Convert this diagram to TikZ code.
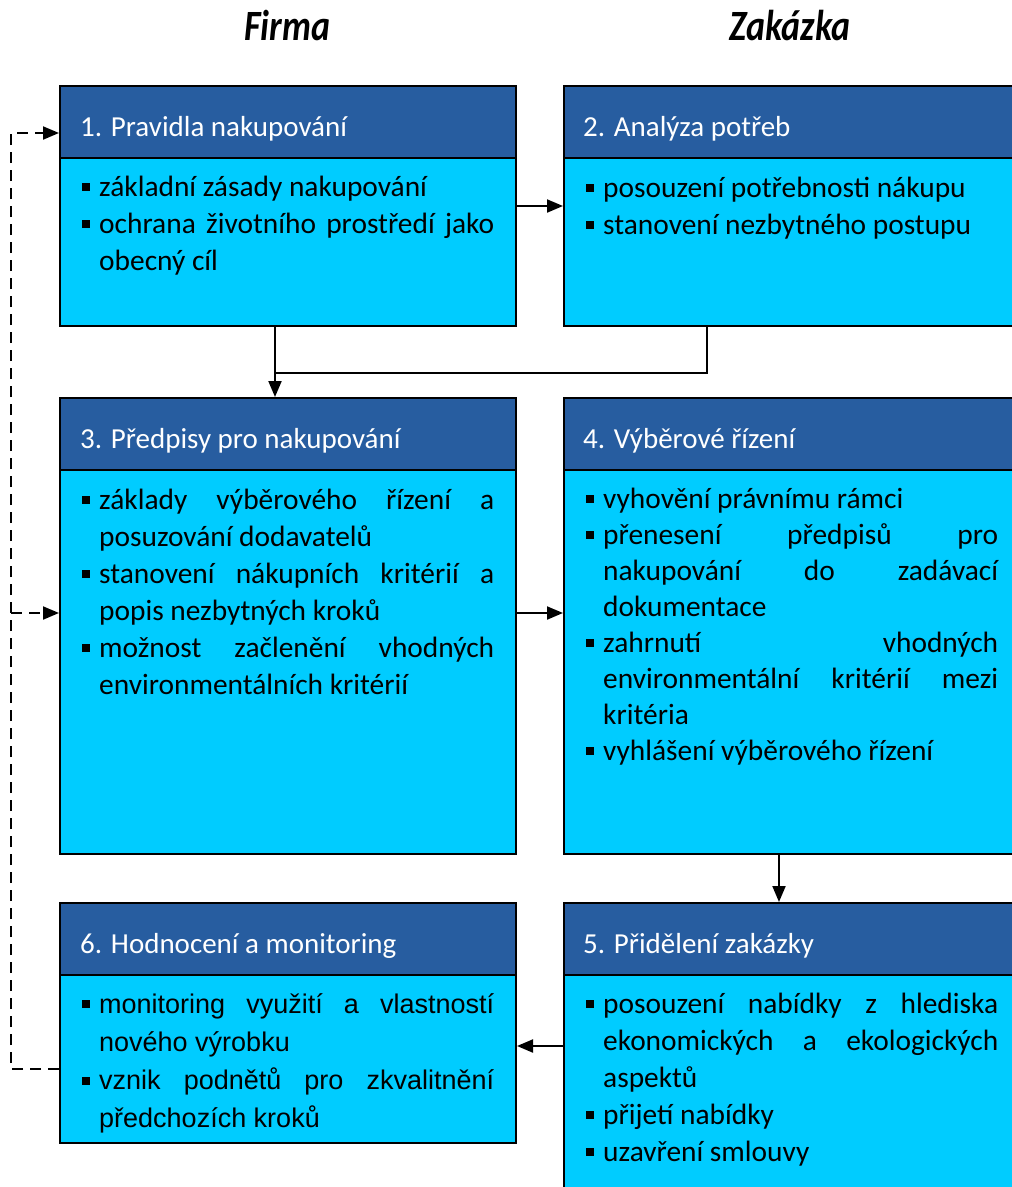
\documentclass[tikz,border=0pt]{standalone}
\usepackage{fontspec}
\setmainfont{Carlito}
\newfontfamily\arialf{Liberation Sans}
\usetikzlibrary{arrows.meta}
\definecolor{hdblue}{HTML}{275DA0}
\definecolor{bdcyan}{HTML}{00CCFF}
\newcommand{\bulmark}{\makebox[17pt][l]{\rule[5pt]{8pt}{8pt}}}
\newcommand{\bulf}{\hyphenpenalty=10000 \exhyphenpenalty=10000 \tolerance=10000 \hbadness=10000 \noindent\hangindent=17pt\hangafter=1 \bulmark\ignorespaces}
\newcommand{\bul}{\par\noindent\hangindent=17pt\hangafter=1 \bulmark\ignorespaces}
\tikzset{
  hdr/.style={draw=black, line width=2pt, fill=hdblue, anchor=north west, inner sep=0pt, minimum height=72pt},
  bdy/.style={draw=black, line width=2pt, fill=bdcyan, anchor=north west, inner sep=0pt},
  htxt/.style={anchor=base west, text=white, inner sep=0pt, font=\fontsize{29}{35}\selectfont},
  btxt/.style={anchor=base west, text width=412pt, align=justify, inner sep=0pt,
     font=\fontsize{29.4}{37}\selectfont},
  atxt/.style={btxt, font=\arialf\fontsize{27}{38.3}\selectfont},
  ttl/.style={anchor=base, inner sep=0pt, font=\fontsize{36}{40}\selectfont\bfseries\itshape},
  conn/.style={line width=2pt},
  arr/.style={line width=2pt, -{Triangle[length=16pt,width=13pt]}},
  darr/.style={line width=2pt, dash pattern=on 11pt off 7pt, -{Triangle[length=16pt,width=13pt]}},
}
\begin{document}
\begin{tikzpicture}[x=1pt,y=-1pt]
\useasboundingbox (0,0) rectangle (1012,1187);
\clip (0,0) rectangle (1012,1187);

\node[ttl] (firma) at (287,40) {\scalebox{1}[1.2]{Firma}};
\node[ttl] (zakazka) at (790,40) {\scalebox{1}[1.2]{Zakázka}};

% box 1
\node[hdr, minimum width=456pt] (h1) at (59,85) {};
\node[bdy, minimum width=456pt, minimum height=168pt] (b1) at (59,157) {};
\node[htxt] (ht1) at ([shift={(21,51)}]h1.north west) {1. Pravidla nakupování};
\node[btxt] (t1) at ([shift={(23,39)}]b1.north west) {\bulf základní zásady nakupování
\bul ochrana životního prostředí jako\linebreak obecný cíl\par};

% box 2
\node[hdr, minimum width=456pt] (h2) at (563,85) {};
\node[bdy, minimum width=456pt, minimum height=168pt] (b2) at (563,157) {};
\node[htxt] (ht2) at ([shift={(20,51)}]h2.north west) {2. Analýza potřeb};
\node[btxt] (t2) at ([shift={(23,40)}]b2.north west) {\bulf posouzení potřebnosti nákupu
\bul stanovení nezbytného postupu\par};

% box 3
\node[hdr, minimum width=456pt] (h3) at (59,397) {};
\node[bdy, minimum width=456pt, minimum height=384pt] (b3) at (59,469) {};
\node[htxt] (ht3) at ([shift={(21,51)}]h3.north west) {3. Předpisy pro nakupování};
\node[btxt] (t3) at ([shift={(23,40)}]b3.north west) {\bulf základy výběrového řízení a\linebreak posuzování dodavatelů
\bul stanovení nákupních kritérií a\linebreak popis nezbytných kroků
\bul možnost začlenění vhodných\linebreak environmentálních kritérií\par};

% box 4
\node[hdr, minimum width=456pt] (h4) at (563,397) {};
\node[bdy, minimum width=456pt, minimum height=384pt] (b4) at (563,469) {};
\node[htxt] (ht4) at ([shift={(20,51)}]h4.north west) {4. Výběrové řízení};
\node[btxt, font=\fontsize{29.4}{36}\selectfont] (t4) at ([shift={(23,39)}]b4.north west) {\bulf vyhovění právnímu rámci
\bul přenesení předpisů pro\linebreak nakupování do zadávací\linebreak dokumentace
\bul zahrnutí vhodných\linebreak environmentální kritérií mezi\linebreak kritéria
\bul vyhlášení výběrového řízení\par};

% box 5
\node[hdr, minimum width=456pt] (h5) at (563,902) {};
\node[bdy, minimum width=456pt, minimum height=230pt] (b5) at (563,974) {};
\node[htxt] (ht5) at ([shift={(20,51)}]h5.north west) {5. Přidělení zakázky};
\node[btxt] (t5) at ([shift={(23,39)}]b5.north west) {\bulf posouzení nabídky z hlediska\linebreak ekonomických a ekologických\linebreak aspektů
\bul přijetí nabídky
\bul uzavření smlouvy\par};

% box 6
\node[hdr, minimum width=456pt] (h6) at (59,902) {};
\node[bdy, minimum width=456pt, minimum height=168pt] (b6) at (59,974) {};
\node[htxt] (ht6) at ([shift={(21,51)}]h6.north west) {6. Hodnocení a monitoring};
\node[atxt] (t6) at ([shift={(23,39)}]b6.north west) {\bulf monitoring využití a vlastností\linebreak nového výrobku
\bul vznik podnětů pro zkvalitnění\linebreak předchozích kroků\par};

% connectors
\draw[arr] ([yshift=-49pt]b1.north east) -- ([yshift=-49pt]b2.north west);
\coordinate (j) at (275,373);
\draw[conn] ([xshift=144pt]b2.south west) |- (j);
\draw[arr] ([xshift=216pt]b1.south west) -- ([xshift=216pt]h3.north west);
\draw[arr] ([yshift=-144pt]b3.north east) -- ([yshift=-144pt]b4.north west);
\draw[arr] ([xshift=216pt]b4.south west) -- ([xshift=216pt]h5.north west);
\draw[arr] ([yshift=-72pt]b5.north west) -- ([yshift=-72pt]b6.north east);

% feedback (dashed)
\coordinate (dtop) at (11,133);
\coordinate (dmid) at (11,613);
\draw[darr] ([yshift=-95pt]b6.north west) -| (dtop) -- ([yshift=-48pt]h1.north west);
\draw[darr] (dmid) -- ([yshift=-144pt]b3.north west);
\end{tikzpicture}
\end{document}
